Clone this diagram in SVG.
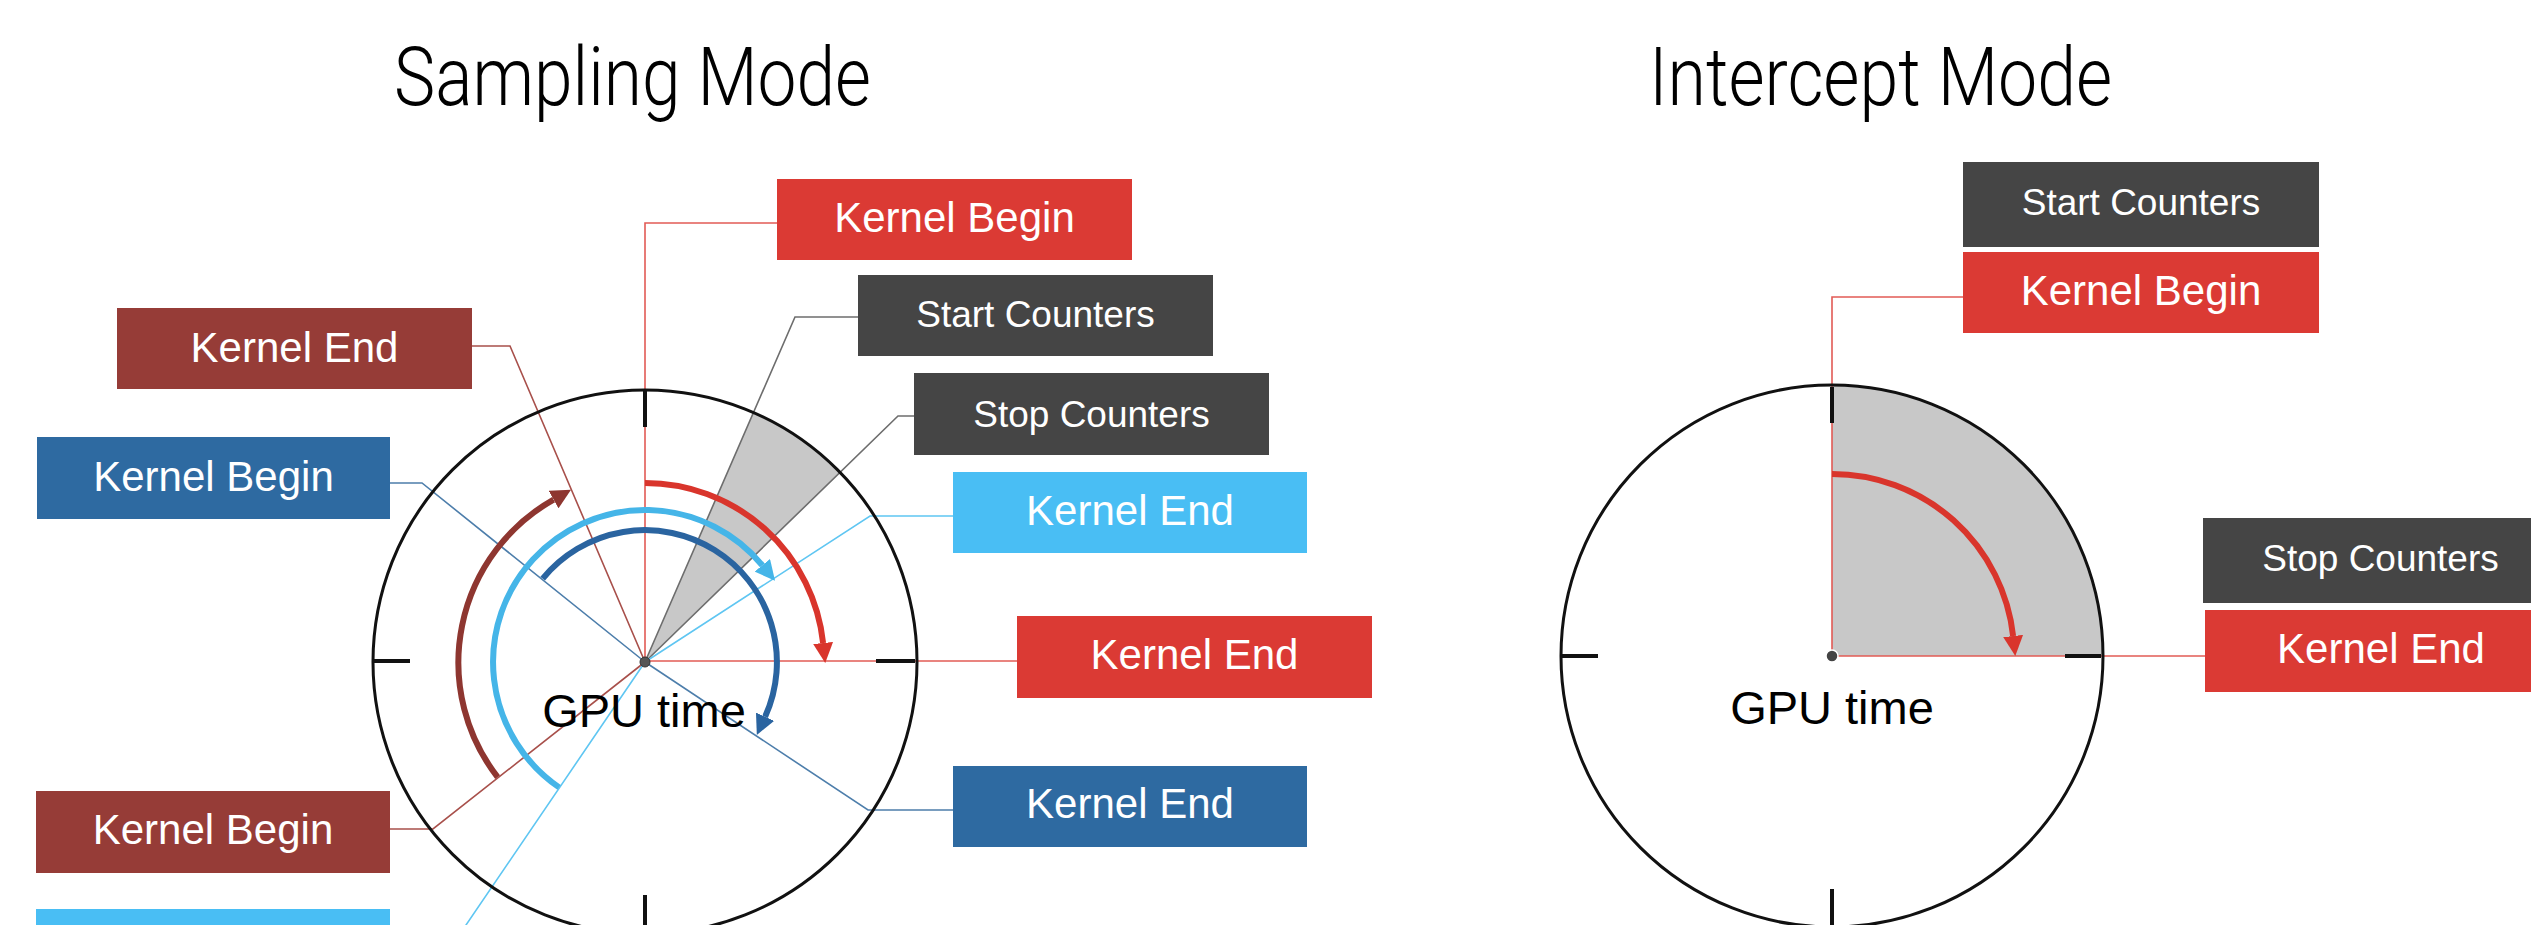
<svg xmlns="http://www.w3.org/2000/svg" width="2531" height="925" viewBox="0 0 2531 925">
<style>
.title{font-family:Roboto,"Liberation Sans",sans-serif;font-weight:300;font-size:82px;fill:#000}
.lbl{font-family:"Liberation Sans",Arial,sans-serif;font-size:42px;fill:#fff;text-anchor:middle}
.lbl.sm{font-size:37px}
.gpu{font-family:"Liberation Sans",Arial,sans-serif;font-size:47px;fill:#000;text-anchor:middle}
.red{fill:#db3a34}.dred{fill:#963c37}.blue{fill:#2e6aa1}.lblue{fill:#49bef4}.dgray{fill:#454545}
.dial{fill:none;stroke:#111;stroke-width:3}
.tick{stroke:#111;stroke-width:4}
.wedge{fill:#c8c8c8}
.c{fill:none;stroke-width:1.6}
.cr{stroke:#e25b55}.cdr{stroke:#a8504b}.cb{stroke:#4d7eab}.clb{stroke:#5fc6f2}.cg{stroke:#6d6d6d}
.arc{fill:none;stroke-width:6}
</style>
<defs>
<marker id="mRed" markerUnits="userSpaceOnUse" markerWidth="20" markerHeight="20" refX="0" refY="10" orient="auto"><path d="M0,0 L20,10 L0,20 z" fill="#d9352c"/></marker>
<marker id="mDred" markerUnits="userSpaceOnUse" markerWidth="20" markerHeight="20" refX="0" refY="10" orient="auto"><path d="M0,0 L20,10 L0,20 z" fill="#8e3630"/></marker>
<marker id="mLblue" markerUnits="userSpaceOnUse" markerWidth="20" markerHeight="20" refX="0" refY="10" orient="auto"><path d="M0,0 L20,10 L0,20 z" fill="#45b5e8"/></marker>
<marker id="mBlue" markerUnits="userSpaceOnUse" markerWidth="20" markerHeight="20" refX="0" refY="10" orient="auto"><path d="M0,0 L20,10 L0,20 z" fill="#2a64a0"/></marker>
</defs>
<rect width="2531" height="925" fill="#fff"/>

<text class="title" x="394" y="105" textLength="477" lengthAdjust="spacingAndGlyphs">Sampling Mode</text>
<text class="title" x="1649" y="105" textLength="463" lengthAdjust="spacingAndGlyphs">Intercept Mode</text>

<!-- Sampling dial -->
<g id="sampling-dial">
<circle cx="645" cy="662" r="272" fill="#fff"/>
<path class="wedge" d="M645,662 L753.5,412.6 A272,272 0 0,1 840,472.4 Z"/>
</g>

<!-- Intercept dial -->
<g id="intercept-dial">
<circle cx="1832" cy="656" r="271" fill="#fff"/>
<path class="wedge" d="M1832,656 L1832,385 A271,271 0 0,1 2103,656 Z"/>
</g>

<g id="connectors">
<polyline class="c cr" points="777,223 645,223 645,662"/>
<polyline class="c cr" points="645,661 1017,661"/>
<polyline class="c cg" points="858,317 795,317 645,662"/>
<polyline class="c cg" points="914,416 898,416 645,662"/>
<polyline class="c clb" points="953,516 870,516 645,662"/>
<polyline class="c cb" points="953,810 868,810 645,662"/>
<polyline class="c cdr" points="472,346 510,346 645,662"/>
<polyline class="c cb" points="390,483 422,483 645,662"/>
<polyline class="c cdr" points="390,829 433,829 645,662"/>
<polyline class="c clb" points="390,950 449,950 645,662"/>
<polyline class="c cr" points="1963,297 1832,297 1832,656"/>
<polyline class="c cr" points="1832,656 2205,656"/>
</g>

<g id="sampling-arcs">
<path class="arc" stroke="#8e3630" marker-end="url(#mDred)" d="M497.6,777.1 A187,187 0 0,1 553.6,499.6"/>
<path class="arc" stroke="#45b5e8" marker-end="url(#mLblue)" d="M559.1,787.4 A152,152 0 1,1 762.3,565.3"/>
<path class="arc" stroke="#2a64a0" marker-end="url(#mBlue)" d="M542.7,578.6 A132,132 0 0,1 765.1,716.7"/>
<path class="arc" stroke="#d9352c" marker-end="url(#mRed)" d="M645,483 A179,179 0 0,1 823.1,643.0"/>
</g>

<g id="sampling-face">
<circle class="dial" cx="645" cy="662" r="272"/>
<line class="tick" x1="645" y1="390" x2="645" y2="427"/>
<line class="tick" x1="373" y1="661" x2="410" y2="661"/>
<line class="tick" x1="876" y1="661" x2="915" y2="661" stroke="#4a1f1c"/>
<line class="tick" x1="645" y1="895" x2="645" y2="935"/>
<text class="gpu" x="644" y="727">GPU time</text>
<circle cx="645" cy="662" r="5" fill="#555" stroke="#333" stroke-width="1"/>
</g>

<g id="intercept-face">
<path class="arc" stroke="#d9352c" marker-end="url(#mRed)" d="M1832,474 A182,182 0 0,1 2013.1,636"/>
<circle class="dial" cx="1832" cy="656" r="271"/>
<line class="tick" x1="1832" y1="387" x2="1832" y2="423"/>
<line class="tick" x1="1561" y1="656" x2="1598" y2="656"/>
<line class="tick" x1="2065" y1="656" x2="2101" y2="656"/>
<line class="tick" x1="1832" y1="889" x2="1832" y2="935"/>
<text class="gpu" x="1832" y="724">GPU time</text>
<circle cx="1832" cy="656" r="6" fill="#444" stroke="#fff" stroke-width="1.5"/>
</g>

<g id="s-kernel-end-darkred"><rect class="dred" x="117" y="308" width="355" height="81"/><text class="lbl" x="294.5" y="362">Kernel End</text></g>
<g id="s-kernel-begin-blue"><rect class="blue" x="37" y="437" width="353" height="82"/><text class="lbl" x="213.5" y="491">Kernel Begin</text></g>
<g id="s-kernel-begin-darkred"><rect class="dred" x="36" y="791" width="354" height="82"/><text class="lbl" x="213" y="844">Kernel Begin</text></g>
<g id="s-kernel-begin-lightblue"><rect class="lblue" x="36" y="909" width="354" height="81"/></g>
<g id="s-kernel-begin-red"><rect class="red" x="777" y="179" width="355" height="81"/><text class="lbl" x="954.5" y="232">Kernel Begin</text></g>
<g id="s-start-counters"><rect class="dgray" x="858" y="275" width="355" height="81"/><text class="lbl sm" x="1035.5" y="327">Start Counters</text></g>
<g id="s-stop-counters"><rect class="dgray" x="914" y="373" width="355" height="82"/><text class="lbl sm" x="1091.5" y="427">Stop Counters</text></g>
<g id="s-kernel-end-lightblue"><rect class="lblue" x="953" y="472" width="354" height="81"/><text class="lbl" x="1130" y="525">Kernel End</text></g>
<g id="s-kernel-end-red"><rect class="red" x="1017" y="616" width="355" height="82"/><text class="lbl" x="1194.5" y="669">Kernel End</text></g>
<g id="s-kernel-end-blue"><rect class="blue" x="953" y="766" width="354" height="81"/><text class="lbl" x="1130" y="818">Kernel End</text></g>

<g id="i-start-counters"><rect class="dgray" x="1963" y="162" width="356" height="85"/><text class="lbl sm" x="2141" y="215">Start Counters</text></g>
<g id="i-kernel-begin"><rect class="red" x="1963" y="252" width="356" height="81"/><text class="lbl" x="2141" y="305">Kernel Begin</text></g>
<g id="i-stop-counters"><rect class="dgray" x="2203" y="518" width="355" height="85"/><text class="lbl sm" x="2380.5" y="571">Stop Counters</text></g>
<g id="i-kernel-end"><rect class="red" x="2205" y="610" width="355" height="82"/><text class="lbl" x="2381" y="663">Kernel End</text></g>
</svg>
